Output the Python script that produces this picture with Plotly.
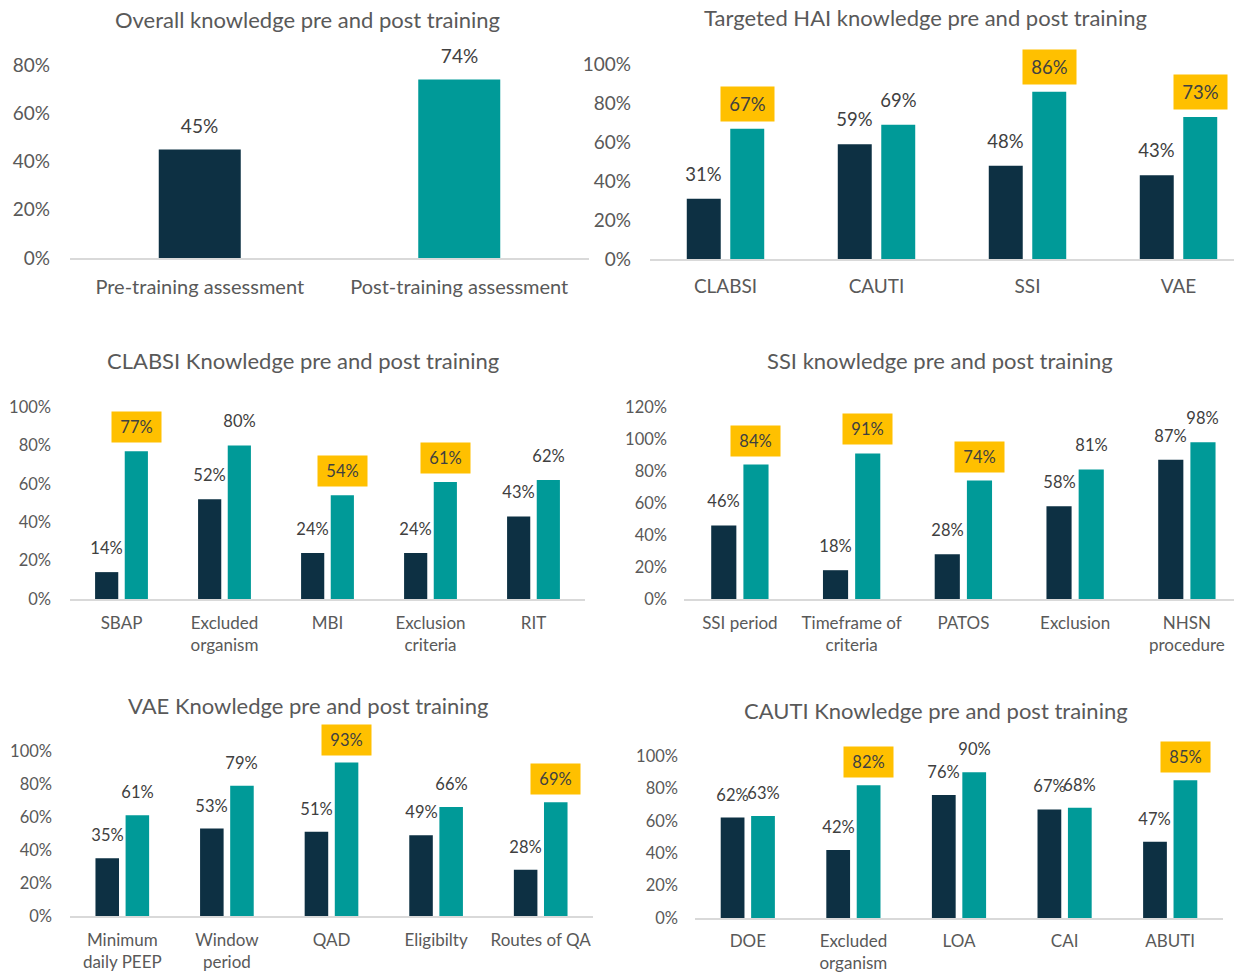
import plotly.graph_objects as go

# ---------------- data ----------------
overall_categories = ["Pre-training assessment", "Post-training assessment"]
overall_values = [0.45, 0.74]

hai_categories = ["CLABSI", "CAUTI", "SSI", "VAE"]
hai_pre = [0.31, 0.59, 0.48, 0.43]
hai_post = [0.67, 0.69, 0.86, 0.73]
hai_highlight = [True, False, True, True]

clabsi_categories = ["SBAP", "Excluded<br>organism", "MBI", "Exclusion<br>criteria", "RIT"]
clabsi_pre = [0.14, 0.52, 0.24, 0.24, 0.43]
clabsi_post = [0.77, 0.80, 0.54, 0.61, 0.62]
clabsi_highlight = [True, False, True, True, False]

ssi_categories = ["SSI period", "Timeframe of<br>criteria", "PATOS", "Exclusion", "NHSN<br>procedure"]
ssi_pre = [0.46, 0.18, 0.28, 0.58, 0.87]
ssi_post = [0.84, 0.91, 0.74, 0.81, 0.98]
ssi_highlight = [True, True, True, False, False]

vae_categories = ["Minimum<br>daily PEEP", "Window<br>period", "QAD", "Eligibilty", "Routes of QA"]
vae_pre = [0.35, 0.53, 0.51, 0.49, 0.28]
vae_post = [0.61, 0.79, 0.93, 0.66, 0.69]
vae_highlight = [False, False, True, False, True]

cauti_categories = ["DOE", "Excluded<br>organism", "LOA", "CAI", "ABUTI"]
cauti_pre = [0.62, 0.42, 0.76, 0.67, 0.47]
cauti_post = [0.63, 0.82, 0.90, 0.68, 0.85]
cauti_highlight = [False, True, False, False, True]

titles = [
    "Overall knowledge pre and post training",
    "Targeted HAI knowledge pre and post training",
    "CLABSI Knowledge pre and post training",
    "SSI knowledge pre and post training",
    "VAE Knowledge pre and post training",
    "CAUTI Knowledge pre and post training",
]

# ---------------- style ----------------
W, H = 1234, 972
FONT = "Lato"
NAVY = "#0D3043"
TEAL = "#009A98"
YELLOW = "#FFC000"
AXIS_TXT = "#595959"
LABEL_TXT = "#404040"
LINE = "#D9D9D9"

BAR_W = 0.225
BAR_GAP = 0.063


def px(x):
    return x / W


def py(y):
    return 1 - y / H


panels = [
    dict(kind="single", cats=overall_categories, vals=overall_values,
         x0=70, x1=589, xr=(-0.5, 1.5), top=65, bot=258, ymax=0.8,
         tick=19, lab=19, xlab=20, box=(53, 34), yshift=6, xstand=10, ystand=19,
         title_xy=(307, 19)),
    dict(kind="group", cats=hai_categories, pre=hai_pre, post=hai_post, hl=hai_highlight,
         x0=650, x1=1234, xr=(-0.5, -0.5 + 584 / 151), top=64.5, bot=259, ymax=1.0,
         tick=19, lab=18.5, xlab=19, box=(53, 34), yshift=7, xstand=10, ystand=18,
         title_xy=(925, 18)),
    dict(kind="group", cats=clabsi_categories, pre=clabsi_pre, post=clabsi_post, hl=clabsi_highlight,
         x0=70, x1=585, xr=(-0.5, 4.5), top=407, bot=599, ymax=1.0,
         tick=16.5, lab=16.5, xlab=17, box=(49, 30), yshift=8, xstand=8, ystand=18,
         title_xy=(303, 360)),
    dict(kind="group", cats=ssi_categories, pre=ssi_pre, post=ssi_post, hl=ssi_highlight,
         x0=684, x1=1234, xr=(-0.5, -0.5 + 550 / 111.75), top=407, bot=599, ymax=1.2,
         tick=16.5, lab=16.5, xlab=17, box=(49, 30), yshift=8, xstand=8, ystand=16,
         title_xy=(940, 360)),
    dict(kind="group", cats=vae_categories, pre=vae_pre, post=vae_post, hl=vae_highlight,
         x0=70, x1=593, xr=(-0.5, 4.5), top=751, bot=916, ymax=1.0,
         tick=16.5, lab=16.5, xlab=17, box=(49, 30), yshift=7, xstand=8, ystand=17,
         title_xy=(308, 705)),
    dict(kind="group", cats=cauti_categories, pre=cauti_pre, post=cauti_post, hl=cauti_highlight,
         x0=695, x1=1223, xr=(-0.5, 4.5), top=756, bot=918, ymax=1.0,
         tick=16.5, lab=16.5, xlab=17, box=(49, 30), yshift=7, xstand=7, ystand=16,
         title_xy=(936, 710)),
]

fig = go.Figure()
annotations = []
layout = {}


def pct(v):
    return f"{round(v * 100)}%"


def label(xref, yref, x, y, v, p, highlight):
    bw, bh = p["box"]
    return dict(
        xref=xref, yref=yref, x=x, y=y, text=pct(v), showarrow=False,
        xanchor="center", yanchor="bottom", yshift=p["yshift"],
        width=bw, height=bh, borderpad=0,
        bgcolor=YELLOW if highlight else "rgba(0,0,0,0)",
        font=dict(family=FONT, size=p["lab"], color=LABEL_TXT),
    )


for k, p in enumerate(panels, start=1):
    xa = "x" if k == 1 else f"x{k}"
    ya = "y" if k == 1 else f"y{k}"
    xkey = "xaxis" if k == 1 else f"xaxis{k}"
    ykey = "yaxis" if k == 1 else f"yaxis{k}"

    if p["kind"] == "single":
        fig.add_trace(go.Bar(
            x=p["cats"], y=p["vals"], xaxis=xa, yaxis=ya, width=0.316,
            marker=dict(color=[NAVY, TEAL], line=dict(width=0)),
            hoverinfo="skip", showlegend=False,
        ))
        for i, v in enumerate(p["vals"]):
            annotations.append(label(xa, ya, i, v, v, p, False))
    else:
        off_pre = -BAR_GAP / 2 - BAR_W
        off_post = BAR_GAP / 2
        fig.add_trace(go.Bar(
            x=p["cats"], y=p["pre"], xaxis=xa, yaxis=ya, width=BAR_W, offset=off_pre,
            marker=dict(color=NAVY, line=dict(width=0)),
            hoverinfo="skip", showlegend=False, name="Pre",
        ))
        fig.add_trace(go.Bar(
            x=p["cats"], y=p["post"], xaxis=xa, yaxis=ya, width=BAR_W, offset=off_post,
            marker=dict(color=TEAL, line=dict(width=0)),
            hoverinfo="skip", showlegend=False, name="Post",
        ))
        c_pre = off_pre + BAR_W / 2
        c_post = off_post + BAR_W / 2
        for i, v in enumerate(p["pre"]):
            annotations.append(label(xa, ya, i + c_pre, v, v, p, False))
        for i, v in enumerate(p["post"]):
            annotations.append(label(xa, ya, i + c_post, v, v, p, p["hl"][i]))

    layout[xkey] = dict(
        domain=[px(p["x0"]), px(p["x1"])], anchor=ya, type="category",
        range=list(p["xr"]), showgrid=False, zeroline=False, automargin=False,
        showline=True, linecolor=LINE, linewidth=1.5, ticks="",
        ticklabelstandoff=p["xstand"],
        tickfont=dict(family=FONT, size=p["xlab"], color=AXIS_TXT),
        fixedrange=True,
    )
    layout[ykey] = dict(
        domain=[py(p["bot"]), py(p["top"])], anchor=xa, automargin=False,
        range=[0, p["ymax"]], dtick=0.2, tickformat=".0%",
        showgrid=False, zeroline=False, showline=False, ticks="",
        ticklabelstandoff=p["ystand"],
        tickfont=dict(family=FONT, size=p["tick"], color=AXIS_TXT),
        fixedrange=True,
    )

    tx, ty = p["title_xy"]
    annotations.append(dict(
        xref="paper", yref="paper", x=px(tx), y=py(ty), text=titles[k - 1],
        showarrow=False, xanchor="center", yanchor="middle",
        font=dict(family=FONT, size=22, color=AXIS_TXT),
    ))

fig.update_layout(
    width=W, height=H,
    autosize=False,
    margin=dict(l=0, r=0, t=0, b=0, pad=0, autoexpand=False),
    paper_bgcolor="white", plot_bgcolor="white",
    barmode="overlay",
    annotations=annotations,
    font=dict(family=FONT, color=AXIS_TXT),
    **layout,
)

fig.write_html(
    "out.html",
    config={"displayModeBar": False, "staticPlot": True},
    post_script="document.body.style.margin='0';document.body.style.overflow='hidden';",
)
